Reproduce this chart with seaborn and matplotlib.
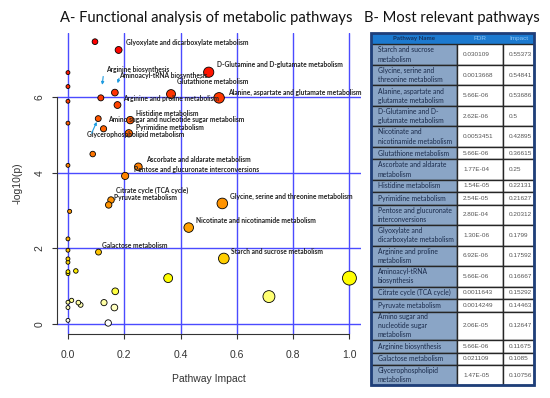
import numpy as np
import pandas as pd
import matplotlib
matplotlib.use('Agg')
import matplotlib.pyplot as plt
import seaborn as sns
from matplotlib.colors import LinearSegmentedColormap
from matplotlib.patches import Rectangle

# ------------------------------------------------------------------
# Table B: most relevant pathways (also the labelled points in A)
# ------------------------------------------------------------------
tbl_names = ['Starch and sucrose\nmetabolism',
             'Glycine, serine and\nthreonine metabolism',
             'Alanine, aspartate and\nglutamate metabolism',
             'D-Glutamine and D-\nglutamate metabolism',
             'Nicotinate and\nnicotinamide metabolism',
             'Glutathione metabolism',
             'Ascorbate and aldarate\nmetabolism',
             'Histidine metabolism',
             'Pyrimidine metabolism',
             'Pentose and glucuronate\ninterconversions',
             'Glyoxylate and\ndicarboxylate metabolism',
             'Arginine and proline\nmetabolism',
             'Aminoacyl-tRNA\nbiosynthesis',
             'Citrate cycle (TCA cycle)',
             'Pyruvate metabolism',
             'Amino sugar and\nnucleotide sugar\nmetabolism',
             'Arginine biosynthesis',
             'Galactose metabolism',
             'Glycerophospholipid\nmetabolism']
tbl_fdr = ['0.030109', '0.0013668', '5.66E-06', '2.62E-06', '0.0053451',
           '5.66E-06', '1.77E-04', '1.54E-05', '2.54E-05', '2.80E-04',
           '1.30E-06', '6.92E-06', '5.66E-06', '0.0011643', '0.0014249',
           '2.06E-05', '5.66E-06', '0.021109', '1.47E-05']
tbl_impact = ['0.55373', '0.54841', '0.53686', '0.5', '0.42895', '0.36615',
              '0.25', '0.22131', '0.21627', '0.20312', '0.1799', '0.17592',
              '0.16667', '0.15292', '0.14463', '0.12647', '0.11675', '0.1085',
              '0.10756']

# -log10(p) of the labelled pathways (same order as the table)
labelled_logp = [1.73, 3.19, 5.99, 6.67, 2.55, 6.09, 4.16, 5.40, 5.05, 3.92,
                 7.26, 5.80, 6.13, 3.28, 3.15, 5.17, 5.99, 1.90, 5.44]

# other (unlabelled) pathways
other_impact = [0.096, 0, 0, 0, 0, 0.088, 0, 0.006, 0, 0, 0, 0, 0, 0, 0.028,
                0.356, 0.168, 0, 0.013, 0.037, 0.045, 0.128, 0.165, 0, 0,
                0.143, 0.714, 1.0]
other_logp = [7.48, 6.66, 6.29, 5.90, 5.32, 4.50, 4.20, 2.98, 2.25, 1.95, 1.72,
              1.63, 1.38, 1.33, 1.40, 1.21, 0.86, 0.57, 0.62, 0.56, 0.50, 0.56,
              0.43, 0.43, 0.09, 0.02, 0.72, 1.21]

# label offsets (points) from each labelled marker, table order
label_offsets = [(5.1, 4.7), (5.5, 4.8), (6.2, 4.2), (5.7, 5.2), (5.0, 5.0),
                 (4.0, 8.9), (5.5, 5.5), (4.1, 4.9), (5.1, 4.5), (6.6, 4.8),
                 (5.3, 5.3), (4.2, 5.0), (3.0, 12.0), (3.4, 7.2), (3.8, 5.2),
                 (3.4, 6.8), (3.5, 20.2), (2.7, 5.1), (-7.9, -11.1)]
# arrows: row index -> (tail offset, shrink at marker) in points
arrows = {16: ((1.7, 15.4), 9.4), 12: ((3.0, 10.3), 7.0), 18: ((-4.8, -10.6), 2.6)}

sns.set_theme(style='white')
plt.rcParams['font.family'] = ['Liberation Sans', 'DejaVu Sans']

heat = LinearSegmentedColormap.from_list('heat', [
    (0.00, '#ffffff'), (0.07, '#ffffb0'), (0.12, '#ffff30'), (0.16, '#ffff00'),
    (0.24, '#ffc800'), (0.34, '#ffa000'), (0.55, '#ff8000'), (0.70, '#ff6000'),
    (0.80, '#ff3800'), (0.90, '#ff1000'), (1.00, '#ff0000')])

names_flat = [n.replace('-\n', '-').replace('\n', ' ') for n in tbl_names]
df = pd.DataFrame({
    'impact': [float(v) for v in tbl_impact] + other_impact,
    'logp': labelled_logp + other_logp,
})
df = df.sort_values('impact', ascending=False)

fig = plt.figure(figsize=(5.5, 3.98), dpi=100)
ax = fig.add_axes([56.7 / 550, 1 - 334.3 / 398, 304 / 550, 301.3 / 398])

sns.scatterplot(data=df, x='impact', y='logp', hue='logp', palette=heat,
                hue_norm=(0, 7.5), size='impact', sizes=(8, 100),
                size_norm=(0, 1), edgecolor='black', linewidth=0.6,
                legend=False, ax=ax, zorder=3)

ax.set_xlim(-0.04, 1.04)
ax.set_ylim(-0.28, 7.71)
ax.set_xticks([0, 0.2, 0.4, 0.6, 0.8, 1.0])
ax.set_xticklabels(['0.0', '0.2', '0.4', '0.6', '0.8', '1.0'])
ax.set_yticks([0, 2, 4, 6])
ax.set_yticklabels(['0', '2', '4', '6'], rotation=90, va='center')
ax.grid(True, color='#4b4bff', lw=1.0)
ax.set_axisbelow(True)
sns.despine(ax=ax)
for side in ['left', 'bottom']:
    ax.spines[side].set_color('#333333')
    ax.spines[side].set_linewidth(0.8)
ax.spines['left'].set_bounds(0, 6)
ax.spines['bottom'].set_bounds(0, 1)
ax.tick_params(axis='both', length=3.5, width=0.8, color='#333333',
               labelsize=7.5, labelcolor='#333333', left=True, bottom=True)
ax.tick_params(axis='x', pad=8)
ax.tick_params(axis='y', pad=5)
ax.set_xlabel('Pathway Impact', fontsize=7.5, color='#333333', labelpad=10)
ax.set_ylabel('-log10(p)', fontsize=7.5, color='#333333', labelpad=9)

for i, name in enumerate(names_flat):
    x, y = float(tbl_impact[i]), labelled_logp[i]
    ax.annotate(name, xy=(x, y), xytext=label_offsets[i],
                textcoords='offset points', ha='left', va='center',
                fontsize=4.8, fontweight='bold', color='#222222',
                family=['Lato', 'DejaVu Sans'], zorder=5)
for i, (tail, shrink) in arrows.items():
    ax.annotate('', xy=(float(tbl_impact[i]), labelled_logp[i]), xytext=tail,
                textcoords='offset points',
                arrowprops=dict(arrowstyle='-|>', color='#1e9be0', lw=0.8,
                                mutation_scale=4, shrinkA=0, shrinkB=shrink),
                zorder=5)

fig.text(206 / 550, 1 - 18 / 398, 'A- Functional analysis of metabolic pathways',
         ha='center', va='center', fontsize=10.6, color='#111111',
         family=['Lato', 'DejaVu Sans'])
fig.text(452 / 550, 1 - 18 / 398, 'B- Most relevant pathways',
         ha='center', va='center', fontsize=10.6, color='#111111',
         family=['Lato', 'DejaVu Sans'])

# ------------------------------------------------------------------
# Table B drawn in a pixel-space overlay
# ------------------------------------------------------------------
tax = fig.add_axes([0, 0, 1, 1], zorder=-1)
tax.set_xlim(0, 550)
tax.set_ylim(398, 0)
tax.axis('off')

col_x = [371, 457, 503, 534]
top, head_h = 32.5, 11.8
tax.add_patch(Rectangle((col_x[0], top), col_x[3] - col_x[0], head_h,
                        facecolor='#1c7ad0', edgecolor='none'))
tax.text((col_x[0] + col_x[1]) / 2, top + head_h / 2, 'Pathway Name',
         ha='center', va='center', fontsize=4.4, fontweight='bold',
         color='#14305e', family=['Lato', 'DejaVu Sans'])
tax.text((col_x[1] + col_x[2]) / 2, top + head_h / 2, 'FDR', ha='center',
         va='center', fontsize=4.6, color='#8cc4f5')
tax.text((col_x[2] + col_x[3]) / 2, top + head_h / 2, 'Impact', ha='center',
         va='center', fontsize=4.6, color='#8cc4f5')

y0 = top + head_h
for name, fdr, imp in zip(tbl_names, tbl_fdr, tbl_impact):
    n = name.count('\n') + 1
    h = 4.4 + 8.05 * n
    tax.add_patch(Rectangle((col_x[0], y0), col_x[1] - col_x[0], h,
                            facecolor='#8aa5c6', edgecolor='#262626', lw=1.0))
    tax.add_patch(Rectangle((col_x[1], y0), col_x[2] - col_x[1], h,
                            facecolor='white', edgecolor='#262626', lw=1.0))
    tax.add_patch(Rectangle((col_x[2], y0), col_x[3] - col_x[2], h,
                            facecolor='white', edgecolor='#262626', lw=1.0))
    tax.text(col_x[0] + 7, y0 + h / 2, name, ha='left', va='center',
             fontsize=4.9, color='#1a2a4a', linespacing=1.35,
             family=['Lato', 'DejaVu Sans'])
    tax.text(col_x[1] + 6, y0 + h / 2, fdr, ha='left', va='center',
             fontsize=4.6, color='#555555')
    tax.text(col_x[2] + 6, y0 + h / 2, imp, ha='left', va='center',
             fontsize=4.6, color='#555555')
    y0 += h

tax.add_patch(Rectangle((col_x[0], top), col_x[3] - col_x[0], y0 - top,
                        facecolor='none', edgecolor='#1f3f7a', lw=2.0))

fig.savefig('out.png', dpi=100)
